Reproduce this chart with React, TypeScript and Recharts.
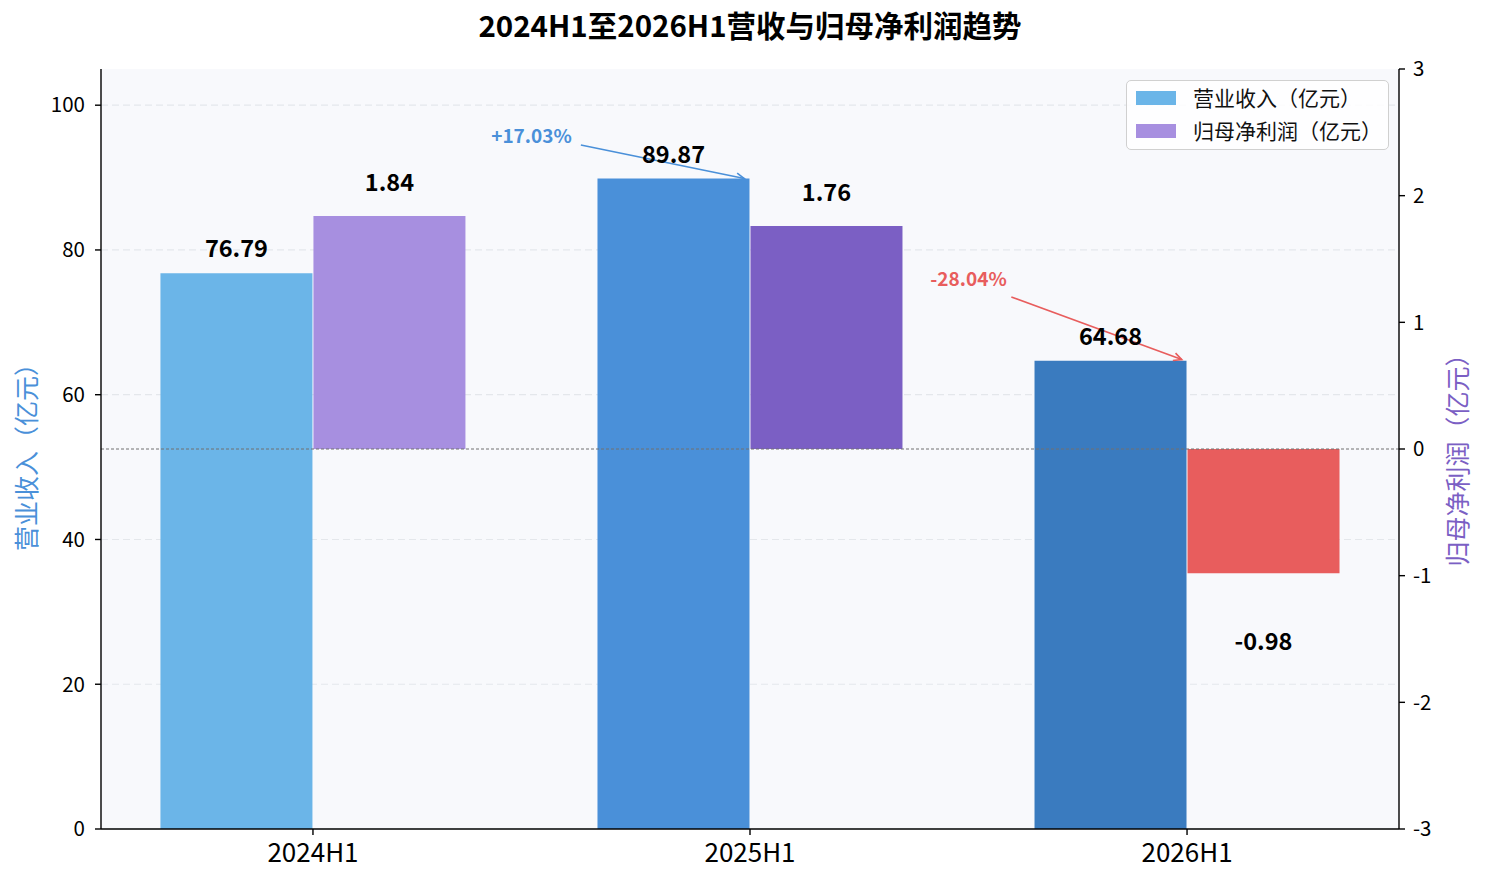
import React from 'react';
import {
  ComposedChart,
  Bar,
  Cell,
  XAxis,
  YAxis,
  CartesianGrid,
  ReferenceLine,
  ReferenceDot,
  LabelList,
  Legend,
} from 'recharts';

const categories = ['2024H1', '2025H1', '2026H1'];
const revenue = [76.79, 89.87, 64.68];
const netProfit = [1.84, 1.76, -0.98];
const revenueColors = ['#6bb5e8', '#4a90d9', '#3a7bbf'];
const profitColors = ['#a78fe0', '#7b5fc4', '#e85d5d'];
const leftTicks = [0, 20, 40, 60, 80, 100];
const rightTicks = [-3, -2, -1, 0, 1, 2, 3];
const gridValues = [20, 40, 60, 80, 100];
const legendLabels = ['营业收入（亿元）', '归母净利润（亿元）'];
const changeLabels = ['+17.03%', '-28.04%'];
const changeColors = ['#4a90d9', '#e85d5d'];
const changeTextX = [0.5, 1.5];
const changeTextY = [95.8, 76.0];
const arrowFromX = [0.613, 1.598];
const arrowFromY = [94.5, 73.5];
const arrowToX = [0.987, 1.988];
const arrowToY = [89.87, 64.85];

const title = '2024H1至2026H1营收与归母净利润趋势';
const leftAxisTitle = '营业收入（亿元）';
const rightAxisTitle = '归母净利润（亿元）';

const FONT = '"Noto Sans CJK SC", "Noto Sans", sans-serif';

const data = categories.map((c, i) => ({
  idx: i,
  name: c,
  revenue: revenue[i],
  profit: netProfit[i],
}));

const RevenueLabel = (props: any) => {
  const { x, y, width, height, value } = props;
  const top = Math.min(Number(y), Number(y) + Number(height));
  return (
    <text
      x={Number(x) + Number(width) / 2}
      y={top - 16}
      textAnchor="middle"
      fontSize={23.5}
      fontWeight={700}
      fontFamily={FONT}
      fill="#000"
    >
      {Number(value).toFixed(2)}
    </text>
  );
};

const ProfitLabel = (props: any) => {
  const { x, y, width, height, value } = props;
  const top = Math.min(Number(y), Number(y) + Number(height));
  const bottom = Math.max(Number(y), Number(y) + Number(height));
  const v = Number(value);
  return (
    <text
      x={Number(x) + Number(width) / 2}
      y={v >= 0 ? top - 25 : bottom + 77}
      textAnchor="middle"
      fontSize={23.5}
      fontWeight={700}
      fontFamily={FONT}
      fill="#000"
    >
      {v.toFixed(2)}
    </text>
  );
};

const makeArrow = (color: string) => (props: any) => {
  const { x1, y1, x2, y2 } = props;
  const ang = Math.atan2(y2 - y1, x2 - x1);
  const L = 9;
  const a = 0.45;
  const p1x = x2 - L * Math.cos(ang - a);
  const p1y = y2 - L * Math.sin(ang - a);
  const p2x = x2 - L * Math.cos(ang + a);
  const p2y = y2 - L * Math.sin(ang + a);
  return (
    <g>
      <line x1={x1} y1={y1} x2={x2} y2={y2} stroke={color} strokeWidth={1.6} />
      <polyline
        points={`${p1x},${p1y} ${x2},${y2} ${p2x},${p2y}`}
        fill="none"
        stroke={color}
        strokeWidth={1.6}
      />
    </g>
  );
};

const makeChangeText = (label: string, color: string) => (props: any) => {
  const { cx, cy } = props;
  return (
    <text
      x={cx}
      y={Number(cy) + 7}
      textAnchor="middle"
      fontSize={19}
      fontWeight={700}
      fontFamily={FONT}
      fill={color}
    >
      {label}
    </text>
  );
};

const LegendBox = () => (
  <div
    style={{
      width: 263,
      height: 70,
      boxSizing: 'border-box',
      border: '1.3px solid #d0d0d0',
      borderRadius: 5,
      background: 'rgba(255,255,255,0.85)',
      paddingTop: 0,
      fontFamily: FONT,
    }}
  >
    {legendLabels.map((l, i) => (
      <div
        key={l}
        style={{ display: 'flex', alignItems: 'center', height: 33 }}
      >
        <div
          style={{
            marginLeft: 9,
            width: 40,
            height: 14,
            background: i === 0 ? revenueColors[0] : profitColors[0],
          }}
        />
        <span
          style={{
            marginLeft: 17,
            fontSize: 21,
            lineHeight: 1,
            color: '#111',
          }}
        >
          {l}
        </span>
      </div>
    ))}
  </div>
);

export default function App() {
  return (
    <div
      style={{
        position: 'absolute',
        left: 0,
        top: 0,
        width: 1485,
        height: 885,
        background: '#fff',
      }}
    >
      <svg
        width={1485}
        height={60}
        style={{ position: 'absolute', left: 0, top: 0 }}
      >
        <text
          x={750}
          y={37}
          textAnchor="middle"
          fontSize={29.5}
          fontWeight={700}
          fontFamily={FONT}
          fill="#000"
        >
          {title}
        </text>
      </svg>
      <ComposedChart
        width={1485}
        height={885}
        data={data}
        margin={{ top: 69, right: 0, left: 0, bottom: 0 }}
        barGap={1}
        style={{ position: 'absolute', left: 0, top: 0 }}
      >
        <CartesianGrid
          yAxisId="left"
          vertical={false}
          horizontalValues={gridValues}
          stroke="#e4e7eb"
          strokeDasharray="7 4"
          strokeWidth={1.2}
          fill="#f8f9fc"
          fillOpacity={1}
        />
        <XAxis
          dataKey="idx"
          type="number"
          domain={[-0.485, 2.485]}
          allowDataOverflow
          ticks={[0, 1, 2]}
          tickFormatter={(v: number) => categories[v] ?? ''}
          height={56}
          tickSize={6}
          tickMargin={9}
          axisLine={{ stroke: '#000', strokeWidth: 1.4 }}
          tickLine={{ stroke: '#000', strokeWidth: 1.4 }}
          tick={{ fontSize: 26, fill: '#000', fontFamily: FONT }}
        />
        <YAxis
          yAxisId="left"
          orientation="left"
          width={101}
          domain={[0, 105]}
          ticks={leftTicks}
          allowDataOverflow
          tickSize={6}
          tickMargin={10}
          axisLine={{ stroke: '#000', strokeWidth: 1.4 }}
          tickLine={{ stroke: '#000', strokeWidth: 1.4 }}
          tick={{ fontSize: 20.5, fill: '#000', fontFamily: FONT }}
          label={{
            content: (p: any) => {
              const vb = p.viewBox || { x: 0, y: 69, width: 101, height: 760 };
              const cx = vb.x + 25;
              const cy = vb.y + vb.height / 2 + 2;
              return (
                <text
                  x={cx}
                  y={cy}
                  textAnchor="middle"
                  dominantBaseline="central"
                  transform={`rotate(-90 ${cx} ${cy})`}
                  fontSize={25}
                  fontFamily={FONT}
                  fill="#4a90d9"
                >
                  {leftAxisTitle}
                </text>
              );
            },
          }}
        />
        <YAxis
          yAxisId="right"
          orientation="right"
          width={86}
          domain={[-3, 3]}
          ticks={rightTicks}
          allowDataOverflow
          tickSize={6}
          tickMargin={8}
          axisLine={{ stroke: '#000', strokeWidth: 1.4 }}
          tickLine={{ stroke: '#000', strokeWidth: 1.4 }}
          tick={{ fontSize: 20.5, fill: '#000', fontFamily: FONT }}
          label={{
            content: (p: any) => {
              const vb = p.viewBox || { x: 1399, y: 69, width: 86, height: 760 };
              const cx = vb.x + 57;
              const cy = vb.y + vb.height / 2 + 5;
              return (
                <text
                  x={cx}
                  y={cy}
                  textAnchor="middle"
                  dominantBaseline="central"
                  transform={`rotate(-90 ${cx} ${cy})`}
                  fontSize={25}
                  fontFamily={FONT}
                  fill="#7b5fc4"
                >
                  {rightAxisTitle}
                </text>
              );
            },
          }}
        />
        <Legend
          layout="horizontal"
          verticalAlign="middle"
          align="center"
          content={() => <LegendBox />}
          wrapperStyle={{
            position: 'absolute',
            left: 1126,
            top: 80,
            width: 263,
            height: 70,
            margin: 0,
          }}
        />
        <Bar
          yAxisId="left"
          dataKey="revenue"
          barSize={152}
          isAnimationActive={false}
        >
          {data.map((d, i) => (
            <Cell key={`r${i}`} fill={revenueColors[i]} />
          ))}
          <LabelList dataKey="revenue" content={RevenueLabel} />
        </Bar>
        <Bar
          yAxisId="right"
          dataKey="profit"
          barSize={152}
          isAnimationActive={false}
        >
          {data.map((d, i) => (
            <Cell key={`p${i}`} fill={profitColors[i]} />
          ))}
          <LabelList dataKey="profit" content={ProfitLabel} />
        </Bar>
        <ReferenceLine
          yAxisId="right"
          y={0}
          stroke="#707070"
          strokeDasharray="3 2"
          strokeWidth={1}
        />
        {changeLabels.map((l, i) => (
          <ReferenceLine
            key={`a${i}`}
            yAxisId="left"
            segment={[
              { x: arrowFromX[i], y: arrowFromY[i] },
              { x: arrowToX[i], y: arrowToY[i] },
            ]}
            shape={makeArrow(changeColors[i])}
          />
        ))}
        {changeLabels.map((l, i) => (
          <ReferenceDot
            key={`t${i}`}
            yAxisId="left"
            x={changeTextX[i]}
            y={changeTextY[i]}
            r={1}
            shape={makeChangeText(l, changeColors[i])}
          />
        ))}
      </ComposedChart>
    </div>
  );
}
